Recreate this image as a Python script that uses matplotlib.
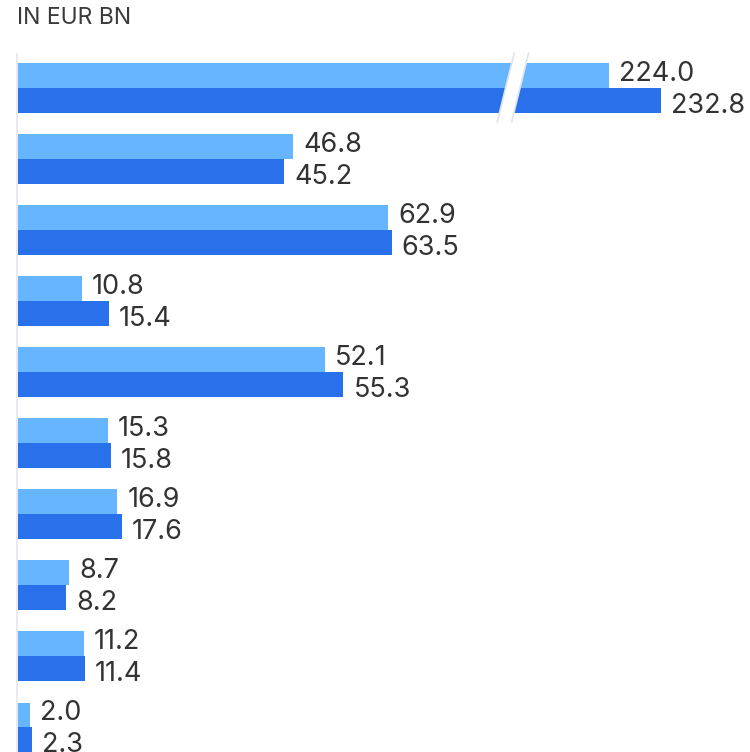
import matplotlib
matplotlib.use("Agg")
import matplotlib.pyplot as plt
from matplotlib.patches import Polygon

plt.rcParams['font.family'] = ['Inter', 'DejaVu Sans']

# Values in EUR bn, two periods per row
prev_values = [224.0, 46.8, 62.9, 10.8, 52.1, 15.3, 16.9, 8.7, 11.2, 2.0]
curr_values = [232.8, 45.2, 63.5, 15.4, 55.3, 15.8, 17.6, 8.2, 11.4, 2.3]
prev_labels = [f"{v:.1f}" for v in prev_values]
curr_labels = [f"{v:.1f}" for v in curr_values]

# The first row is drawn on a broken axis: this amount is cut out of the bar
BREAK_CUT = 123.5
BREAK_AT = 84.1

LIGHT = "#66b5ff"
DARK = "#2971eb"
TEXT = "#333333"

W, H = 750, 752
fig = plt.figure(figsize=(W / 100, H / 100), dpi=100)
left_px = 18
ax = fig.add_axes([left_px / W, 0, (W - left_px) / W, 1])
px_per_unit_x = 5.885
row_px = 71.0
first_center_px = 88.5
ax.set_xlim(0, (W - left_px) / px_per_unit_x)
ax.set_ylim((H - first_center_px) / row_px, -first_center_px / row_px)
ax.axis("off")

bar_h = 25.0 / row_px

def shown(i, v):
    return v - BREAK_CUT if i == 0 else v

for i, (p, c) in enumerate(zip(prev_values, curr_values)):
    yp = i - bar_h / 2
    yc = i + bar_h / 2
    ax.barh(yp, shown(i, p), height=bar_h, color=LIGHT, linewidth=0)
    ax.barh(yc, shown(i, c), height=bar_h, color=DARK, linewidth=0)
    ax.annotate(prev_labels[i], (shown(i, p), yp), xytext=(10, 1.5), textcoords="offset pixels",
                ha="left", va="center", fontsize=19.5, color=TEXT)
    ax.annotate(curr_labels[i], (shown(i, c), yc), xytext=(10, -5), textcoords="offset pixels",
                ha="left", va="center", fontsize=19.5, color=TEXT)

# Axis line, just left of the bars
axis_x = -1.0 / px_per_unit_x
ax.plot([axis_x, axis_x], [-0.5, 20], color="#e3e7ee", linewidth=1.2,
        solid_capstyle="butt", clip_on=False)

# Break marker on the first row
y_top, y_bot = (53 - first_center_px) / row_px, (122 - first_center_px) / row_px
half_w = 7.2 / px_per_unit_x
slant = 8.5 / px_per_unit_x
pts = [(BREAK_AT + slant - half_w, y_top), (BREAK_AT + slant + half_w, y_top),
       (BREAK_AT - slant + half_w, y_bot), (BREAK_AT - slant - half_w, y_bot)]
ax.add_patch(Polygon(pts, closed=True, facecolor="white", edgecolor="none", zorder=5))
for a, b in ((pts[0], pts[3]), (pts[1], pts[2])):
    ax.plot([a[0], b[0]], [a[1], b[1]], color="#dfe4ec", linewidth=1.2, zorder=6)

fig.text(17 / W, 1 - 17.5 / H, "IN EUR BN", ha="left", va="center", fontsize=16.5,
         color="#3a3a3a")

fig.savefig("out.png", dpi=100)
